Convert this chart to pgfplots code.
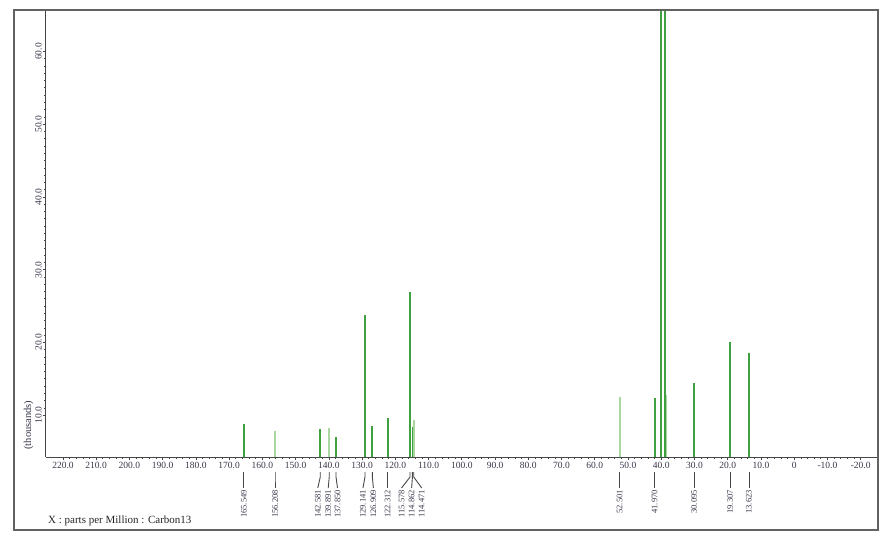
\documentclass[border=0pt]{standalone}
\usepackage{fontspec}
\setmainfont{Liberation Serif}
\usepackage{pgfplots}
\pgfplotsset{compat=1.18}
\definecolor{pk}{RGB}{62,160,62}
\definecolor{pkl}{RGB}{170,215,160}
\definecolor{ax}{RGB}{70,70,70}
\definecolor{tl}{RGB}{55,55,75}
\newcommand{\plab}[2]{%
  \draw[ax, line width=0.9pt] ([yshift=-15pt]axis cs:#1,4.25) -- ([yshift=-20pt]axis cs:#1,4.25) -- ([xshift=#2pt,yshift=-31pt]axis cs:#1,4.25);
  \node[rotate=90, anchor=east, inner sep=0pt, font=\fontsize{8.5}{9}\selectfont, text=tl] at ([xshift=#2pt,yshift=-33pt]axis cs:#1,4.25) {#1};
}
\begin{document}
\begin{tikzpicture}[x=1pt,y=1pt]
\path (0,0) rectangle (885,544);
\begin{axis}[
  at={(46pt,87pt)}, anchor=south west,
  width=832pt, height=447pt, scale only axis,
  x dir=reverse, xmin=-25.2, xmax=225.1, ymin=4.25, ymax=65.7,
  axis x line=bottom, axis y line=left,
  axis line style={ax, line width=1pt, -},
  xtick={220,210,...,-20},
  xticklabels={220.0,210.0,200.0,190.0,180.0,170.0,160.0,150.0,140.0,130.0,120.0,110.0,100.0,90.0,80.0,70.0,60.0,50.0,40.0,30.0,20.0,10.0,0,-10.0,-20.0},
  minor x tick num=4,
  ytick={10,20,30,40,50,60},
  yticklabels={10.0,20.0,30.0,40.0,50.0,60.0},
  minor y tick num=9,
  tick align=outside, major tick length=3pt, minor tick length=2pt,
  every tick/.style={ax, line width=0.7pt},
  tick label style={font=\fontsize{9.5}{10}\selectfont, text=tl},
  xticklabel style={inner sep=1.5pt},
  yticklabel style={rotate=90, anchor=south, inner sep=1pt},
  clip mode=individual,
  /pgf/number format/assume math mode=true,
]
\addplot[ycomb, pkl, line width=1.8pt, mark=none] coordinates {
  (156.208,7.8) (139.891,8.25) (114.471,9.35) (52.501,12.5) (38.6,12.8)
};
\addplot[ycomb, pk, line width=1.8pt, mark=none] coordinates {
  (165.549,8.8) (142.581,8.1) (137.850,7.0) (129.141,23.8) (126.909,8.5)
  (122.312,9.6) (115.578,27.0) (114.862,8.4) (41.970,12.4) (40.2,100)
  (38.9,100) (30.095,14.4) (19.307,20.1) (13.623,18.6)
};
\plab{165.549}{0}
\plab{156.208}{0}
\plab{142.581}{-2.5}
\plab{139.891}{-1}
\plab{137.850}{1.5}
\plab{129.141}{-2}
\plab{126.909}{1}
\plab{122.312}{0}
\plab{115.578}{-8.5}
\plab{114.862}{-0.8}
\plab{114.471}{8}
\plab{52.501}{0}
\plab{41.970}{0}
\plab{30.095}{0}
\plab{19.307}{0}
\plab{13.623}{0}
\end{axis}
\draw[ax!85, line width=1.3pt] (14,14) rectangle (878,534);
\node[anchor=west, inner sep=0pt, font=\fontsize{11}{12}\selectfont, text=black!85] at (48,23) {X : parts per Million : Carbon13};
\node[rotate=90, inner sep=0pt, font=\fontsize{10.5}{12}\selectfont, text=tl] at (28.5,119) {(thousands)};
\end{tikzpicture}
\end{document}
